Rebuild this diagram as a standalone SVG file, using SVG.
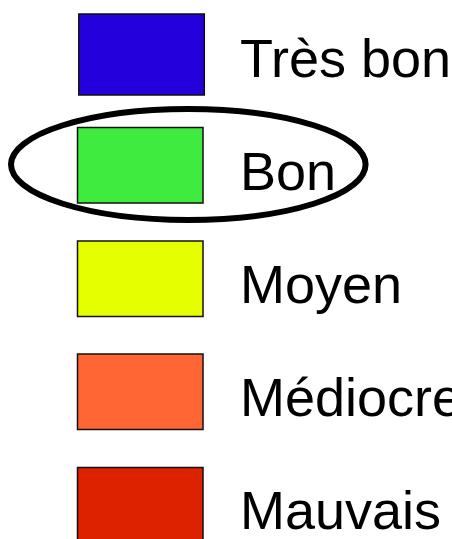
<svg xmlns="http://www.w3.org/2000/svg" width="452" height="539" viewBox="0 0 452 539">
<style>
.sw{stroke:#111;stroke-width:1.5}
.lb{font-family:"Liberation Sans",Arial,sans-serif;font-size:54px;fill:#000}
</style>
<rect width="452" height="539" fill="#fff"/>
<g id="tres-bon"><rect class="sw" x="78.8" y="14" width="125.5" height="81" fill="#2300dc"/><text class="lb" x="240" y="77">Très bon</text></g>
<g id="bon"><rect class="sw" x="77.5" y="127.5" width="125.5" height="75.5" fill="#3eeb3e"/><text class="lb" x="240" y="190">Bon</text></g>
<g id="moyen"><rect class="sw" x="77.5" y="241" width="125.5" height="75.5" fill="#e6ff00"/><text class="lb" x="240" y="303">Moyen</text></g>
<g id="mediocre"><rect class="sw" x="77.5" y="354" width="125.5" height="75.5" fill="#ff6633"/><text class="lb" x="240" y="416">Médiocre</text></g>
<g id="mauvais"><rect class="sw" x="77.5" y="467.5" width="125.5" height="75.5" fill="#dd2200"/><text class="lb" x="240" y="529">Mauvais</text></g>
<g id="highlight"><ellipse cx="188.3" cy="164.5" rx="177.3" ry="55.5" fill="none" stroke="#000" stroke-width="6"/></g>
</svg>
